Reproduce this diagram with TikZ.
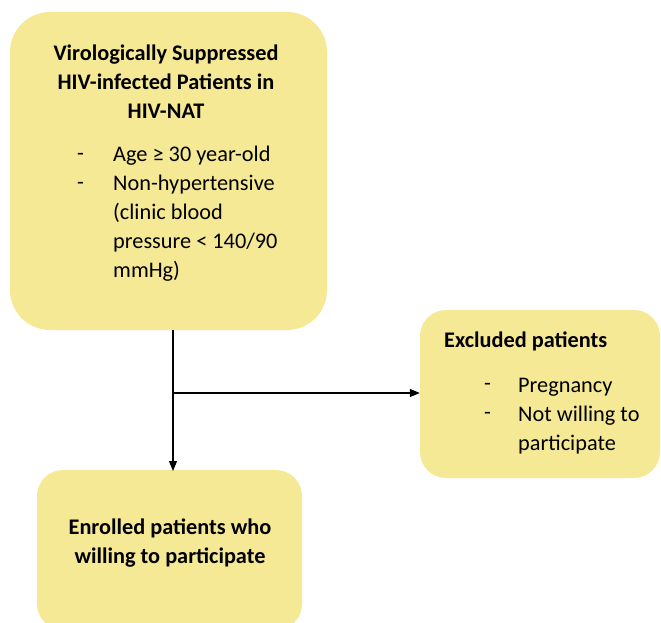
\documentclass[tikz,border=0pt]{standalone}
\usepackage{fontspec}
\setmainfont{Carlito}
\usetikzlibrary{arrows.meta}
\definecolor{boxfill}{RGB}{245,233,150}
\begin{document}
\begin{tikzpicture}[x=1pt,y=1pt,
  bigbox/.style={fill=boxfill, rounded corners=40pt, inner sep=0pt},
  smallbox/.style={fill=boxfill, rounded corners=26pt, inner sep=0pt},
  txt/.style={inner sep=0pt, font=\fontsize{22.3}{29}\selectfont},
  btxt/.style={inner sep=0pt, font=\fontsize{22.3}{29}\selectfont\bfseries},
  conn/.style={line width=1.1pt, -{Triangle[length=10pt,width=8pt]}}]
\useasboundingbox (0,0) rectangle (661,-623);
% boxes
\node[bigbox, minimum width=317pt, minimum height=318pt] (src) at (168.5,-171) {};
\node[smallbox, minimum width=240pt, minimum height=168pt] (excl) at (540,-394) {};
\node[smallbox, minimum width=265pt, minimum height=160pt] (enr) at (169.5,-550) {};
% texts box 1
\node[btxt, align=center] (title) at (166,-82) {Virologically Suppressed\\HIV-infected Patients in\\HIV-NAT};
\node[txt, align=left, anchor=west] (d1) at (77,-171) {-\\-};
\node[txt, align=left, anchor=west] (crit) at (113,-214) {Age ≥ 30 year-old\\Non-hypertensive\\(clinic blood\\pressure < 140/90\\mmHg)};
% texts box 2
\node[btxt, anchor=west] (extitle) at (444,-341) {Excluded patients};
\node[txt, align=left, anchor=west] (d2) at (484,-401) {-\\-};
\node[txt, align=left, anchor=west] (exlist) at (518,-416) {Pregnancy\\Not willing to\\participate};
% texts box 3
\node[btxt, align=center] (enrtext) at (170,-543) {Enrolled patients who\\willing to participate};
% connectors
\coordinate (top) at (173,-330);
\coordinate (split) at (173,-393);
\draw[conn] (top) -- (173,-471) coordinate (bot);
\draw[conn] (split) -- (split -| excl.west);
\end{tikzpicture}
\end{document}
